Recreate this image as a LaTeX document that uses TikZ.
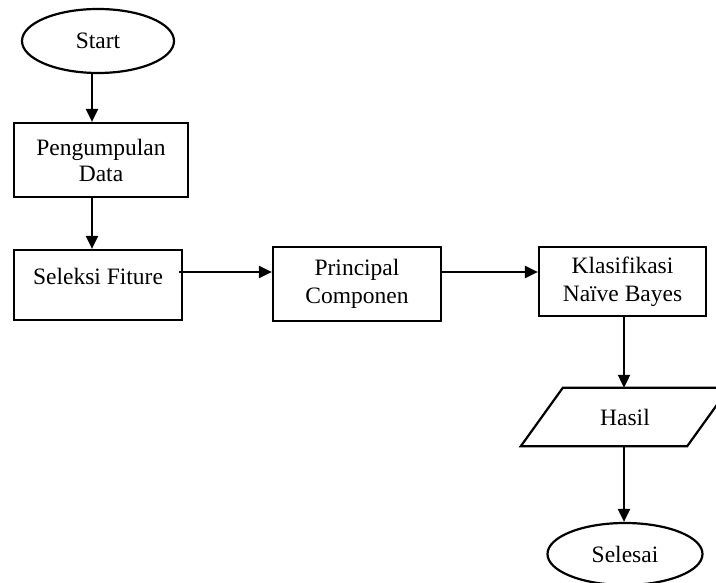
\documentclass[tikz,border=0pt]{standalone}
\usepackage{fontspec}
\setmainfont{Liberation Serif}
\usetikzlibrary{arrows.meta,shapes.geometric,calc}
\begin{document}
\begin{tikzpicture}[x=1pt,y=-1pt,
  every node/.style={font=\fontsize{23.5}{27}\selectfont},
  boxst/.style={draw,line width=2.2pt,rectangle,inner sep=0pt,align=center},
  ovalst/.style={draw,line width=2.2pt,ellipse,inner sep=0pt},
  arr/.style={line width=2.2pt,-{Triangle[length=13pt,width=12pt]}}]
\useasboundingbox (0,0) rectangle (716,583);
\clip (0,0) rectangle (716,583);
\coordinate (colA) at (92,0);
\coordinate (colC) at (624,0);
\coordinate (rowB) at (0,272);
\node[ovalst,minimum width=152,minimum height=64] (start) at (98,41) {Start};
\node[boxst,minimum width=174,minimum height=74] (peng) at (101,160) {Pengumpulan\\[-1pt]Data};
\node[boxst,minimum width=168,minimum height=70,text depth=18pt] (sel) at (98,285) {Seleksi Fiture};
\node[boxst,minimum width=168,minimum height=74] (pc) at (357,284) {Principal\\[1pt]Componen};
\node[boxst,minimum width=167,minimum height=69] (kla) at (622.5,281.5) {Klasifikasi\\[1pt]Naïve Bayes};
\node[rectangle,inner sep=0pt,minimum width=166,minimum height=58] (hasil) at (625,417) {Hasil};
\draw[line width=2.2pt,line join=miter]
  ($(hasil.north west)+(21,0)$) -- ($(hasil.north east)+(21,0)$) --
  ($(hasil.south east)+(-21,0)$) -- ($(hasil.south west)+(-21,0)$) -- cycle;
\node[ovalst,minimum width=155,minimum height=62] (sls) at (625,554) {Selesai};
\draw[arr] (start.south -| colA) -- (peng.north -| colA);
\draw[arr] (peng.south -| colA) -- (sel.north -| colA);
\draw[arr] ([xshift=-4pt]sel.east |- rowB) -- (pc.west |- rowB);
\draw[arr] (pc.east |- rowB) -- (kla.west |- rowB);
\draw[arr] (kla.south -| colC) -- (hasil.north -| colC);
\draw[arr] (hasil.south -| colC) -- (sls.north -| colC);
\end{tikzpicture}
\end{document}
